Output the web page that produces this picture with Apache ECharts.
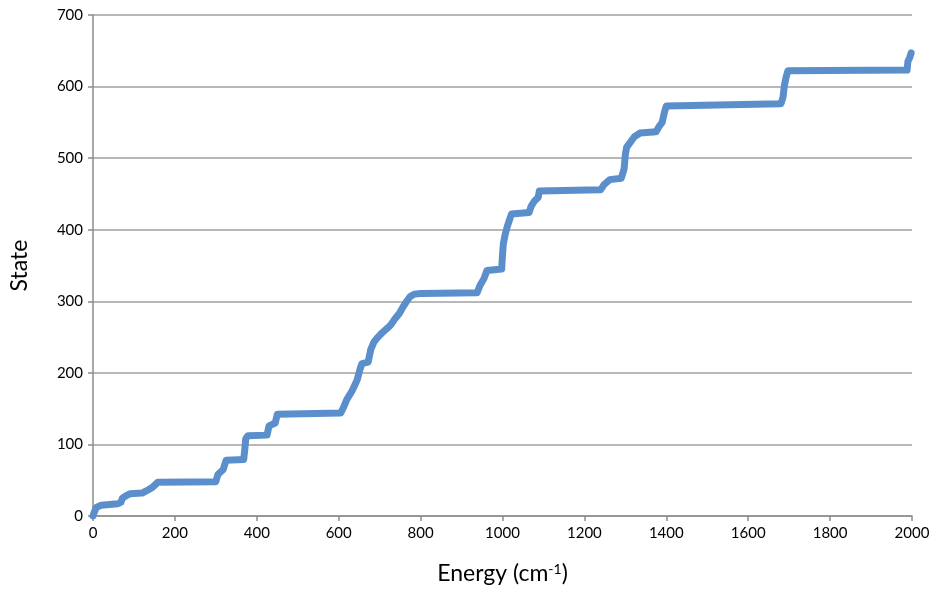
<!DOCTYPE html>
<html>
<head>
<meta charset="utf-8">
<script src="https://cdn.jsdelivr.net/npm/echarts@6/dist/echarts.min.js"></script>
<style>html,body{margin:0;padding:0;background:#fff;}#c{width:938px;height:590px;}</style>
</head>
<body>
<div id="c"></div>
<script>
const energy = [0,3,8,20,60,68,72,80,90,120,130,145,158,300,305,318,325,368,371,373,378,425,430,445,450,605,612,620,632,645,652,657,672,678,686,696,706,718,727,738,748,758,766,775,785,800,938,945,955,962,998,1000,1002,1006,1012,1022,1065,1070,1078,1087,1090,1240,1248,1262,1290,1297,1300,1303,1312,1322,1336,1375,1382,1390,1395,1400,1680,1685,1688,1692,1697,1988,1990,1994,1998];
const state = [0,5,12,15,17,19,25,28,31,32,35,40,47,48,58,65,78,79,95,108,112,113,126,130,142,144,152,163,174,190,205,213,215,232,243,250,256,262,267,276,283,293,300,307,310,311,312,322,332,343,345,365,380,392,405,422,424,433,440,445,454,456,463,470,472,485,505,515,522,530,535,537,544,550,563,573,576,585,600,612,622,623,635,640,647];
const xTicks = [0,200,400,600,800,1000,1200,1400,1600,1800,2000];
const yTicks = [0,100,200,300,400,500,600,700];

const chart = echarts.init(document.getElementById('c'));
const data = energy.map((e, i) => [e, state[i]]);
const font = 'Lato, "Open Sans", sans-serif';
chart.setOption({
  animation: false,
  backgroundColor: '#fff',
  grid: { left: 93, right: 26, top: 15, bottom: 74, containLabel: false },
  xAxis: {
    type: 'value', min: xTicks[0], max: xTicks[xTicks.length-1], interval: 200,
    name: '{n|Energy (cm}{s|-1}{n|)}', nameLocation: 'middle', nameGap: 46,
    nameTextStyle: { rich: { n: { fontSize: 23, color: '#000', fontFamily: font }, s: { fontSize: 14, color: '#000', fontFamily: font, verticalAlign: 'top', padding:[0,0,9,0] } } },
    axisLine: { show: true, lineStyle: { color: '#8c8c8c', width: 1.5 } },
    axisTick: { show: true, inside: false, length: 5, lineStyle: { color: '#8c8c8c', width: 1.5 } },
    axisLabel: { color: '#000', fontSize: 15, fontFamily: font, margin: 10, formatter: v => String(v) },
    splitLine: { show: false }
  },
  yAxis: {
    type: 'value', min: yTicks[0], max: yTicks[yTicks.length-1], interval: 100,
    name: 'State', nameLocation: 'middle', nameGap: 62, nameRotate: 90,
    nameTextStyle: { fontSize: 23, color: '#000', fontFamily: font },
    axisLine: { show: true, lineStyle: { color: '#8c8c8c', width: 1.5 } },
    axisTick: { show: true, inside: false, length: 5, lineStyle: { color: '#8c8c8c', width: 1.5 } },
    axisLabel: { color: '#000', fontSize: 15, fontFamily: font, margin: 10, formatter: v => String(v) },
    splitLine: { show: true, lineStyle: { color: '#a0a0a0', width: 1.5 } }
  },
  series: [{
    type: 'line', data: data, showSymbol: false, symbol: 'none',
    lineStyle: { color: '#5b8fcb', width: 7, cap: 'round', join: 'round' },
    z: 3
  }]
});
</script>
</body>
</html>
